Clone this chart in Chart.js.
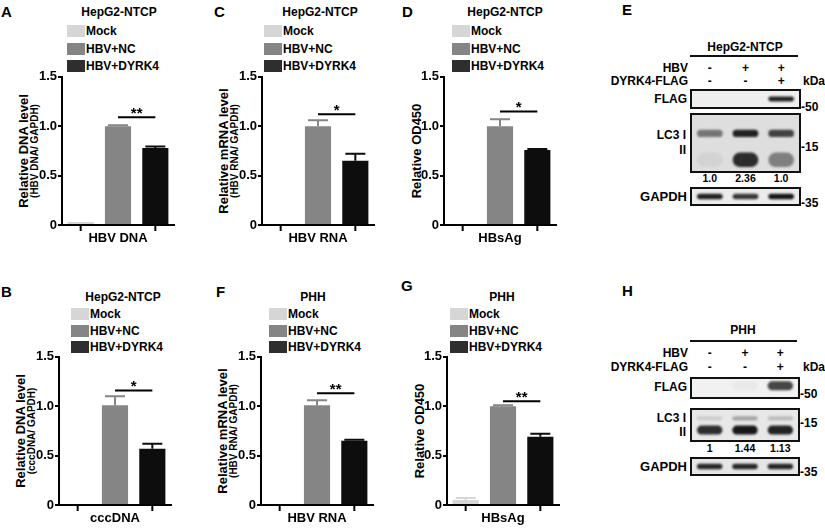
<!DOCTYPE html>
<html>
<head>
<meta charset="utf-8">
<script src="https://cdn.jsdelivr.net/npm/chart.js@4.4.1/dist/chart.umd.min.js"></script>
<style>
html, body { margin: 0; padding: 0; background: #fff; }
#fig { position: relative; width: 825px; height: 528px; overflow: hidden;
       font-family: "Liberation Sans", Arial, sans-serif; font-weight: bold; color: #000; }
#fig canvas { position: absolute; }
.t { position: absolute; white-space: nowrap; line-height: 1; }
.sw { position: absolute; width: 18px; height: 12px; }
.rule { position: absolute; height: 2px; background: #111; }
.blot { position: absolute; border: 2px solid #111; box-sizing: border-box; overflow: hidden; }
.blot canvas { left: 0; top: 0; filter: blur(1.2px); }
</style>
</head>
<body>
<div id="fig"></div>
<script>
// groups shared by all bar panels
const groups = ['Mock', 'HBV+NC', 'HBV+DYRK4'];
const groupColors = ['#d6d6d6', '#858585', '#0d0d0d'];
const legendColors = ['#d6d6d6', '#858585', '#2e2e2e'];

// bar values (mean) and error (SD, drawn upward)
const valuesA = [0.03, 1.00, 0.78];
const errorsA = [0, 0.01, 0.015];
const valuesC = [0, 1.00, 0.65];
const errorsC = [0, 0.06, 0.07];
const valuesD = [0.01, 1.00, 0.76];
const errorsD = [0, 0.07, 0.01];
const valuesB = [0, 1.01, 0.57];
const errorsB = [0, 0.09, 0.05];
const valuesF = [0, 1.01, 0.65];
const errorsF = [0, 0.05, 0.01];
const valuesG = [0.05, 1.00, 0.69];
const errorsG = [0.02, 0.01, 0.03];

// significance marks (NC vs DYRK4)
const starsA = '**', starsC = '*', starsD = '*', starsB = '*', starsF = '**', starsG = '**';
const sigLevelA = 1.09, sigLevelC = 1.12, sigLevelD = 1.15, sigLevelB = 1.16, sigLevelF = 1.13, sigLevelG = 1.05;

// western blots
const lanes = ['1', '2', '3'];
const hbvSigns = ['-', '+', '+'];
const dyrkSigns = ['-', '-', '+'];
const flagE = [0, 0, 0.9];
const lc3IE = [0.5, 0.9, 0.75];
const lc3IIE = [0.05, 0.85, 0.45];
const gapdhE = [0.9, 0.8, 0.95];
const quantE = ['1.0', '2.36', '1.0'];
const flagH = [0, 0.03, 0.75];
const lc3IH = [0.12, 0.3, 0.2];
const lc3IIH = [0.85, 0.95, 0.9];
const gapdhH = [0.88, 0.88, 0.88];
const quantH = ['1', '1.44', '1.13'];

Chart.defaults.font.family = '"Liberation Sans", Arial, sans-serif';
Chart.defaults.font.weight = 'bold';
Chart.defaults.color = '#000';

const fig = document.getElementById('fig');

function txt(s, x, y, size, align) {
    const d = document.createElement('div');
    d.className = 't';
    d.textContent = s;
    d.style.left = x + 'px';
    d.style.top = y + 'px';
    d.style.fontSize = size + 'px';
    const tx = align === 'center' ? '-50%' : align === 'right' ? '-100%' : '0';
    d.style.transform = `translate(${tx}, -50%)`;
    fig.appendChild(d);
    return d;
}

function vtxt(s, x, y, size) {
    const d = txt(s, x, y, size);
    d.style.transform = 'translate(-50%, -50%) rotate(-90deg)';
    return d;
}

// error bars, x tick marks and significance bracket
const extras = {
    id: 'extras',
    afterDatasetsDraw(chart, args, opts) {
        const { ctx, scales: { x, y } } = chart;
        const bars = chart.getDatasetMeta(0).data;
        ctx.save();
        ctx.lineWidth = 2;
        opts.errors.forEach((e, i) => {
            if (!e) return;
            const bx = bars[i].x;
            const base = y.getPixelForValue(opts.values[i]);
            const top = y.getPixelForValue(opts.values[i] + e);
            ctx.strokeStyle = groupColors[i];
            ctx.beginPath();
            ctx.moveTo(bx, base); ctx.lineTo(bx, top);
            ctx.moveTo(bx - 10, top); ctx.lineTo(bx + 10, top);
            ctx.stroke();
        });
        ctx.strokeStyle = '#000';
        [0, groups.length - 1].forEach(i => {
            const px = x.getPixelForValue(i);
            ctx.beginPath();
            ctx.moveTo(px, y.bottom); ctx.lineTo(px, y.bottom + 6);
            ctx.stroke();
        });
        const sy = y.getPixelForValue(opts.sigLevel);
        const x1 = bars[1].x, x2 = bars[2].x;
        ctx.beginPath();
        ctx.moveTo(x1, sy); ctx.lineTo(x2, sy);
        ctx.stroke();
        ctx.fillStyle = '#000';
        ctx.font = 'bold 15px "Liberation Sans", Arial, sans-serif';
        ctx.textAlign = 'center';
        ctx.textBaseline = 'alphabetic';
        ctx.fillText(opts.stars, (x1 + x2) / 2, sy + 1);
        ctx.restore();
    }
};

const panels = [
    { letter: 'A', title: 'HepG2-NTCP', yTitle: 'Relative  DNA level', ySub: '(HBV DNA/ GAPDH)', xLabel: 'HBV DNA',
      values: valuesA, errors: errorsA, stars: starsA, sigLevel: sigLevelA,
      x0: 62, top: 76, lx: 1, ly: 11, tx: 119, ty: 12, legX: 67, legY: [31, 49, 66] },
    { letter: 'C', title: 'HepG2-NTCP', yTitle: 'Relative mRNA level', ySub: '(HBV RNA/ GAPDH)', xLabel: 'HBV RNA',
      values: valuesC, errors: errorsC, stars: starsC, sigLevel: sigLevelC,
      x0: 262, top: 76, lx: 214, ly: 11, tx: 320, ty: 12, legX: 264, legY: [31, 49, 66] },
    { letter: 'D', title: 'HepG2-NTCP', yTitle: 'Relative OD450', ySub: null, xLabel: 'HBsAg',
      values: valuesD, errors: errorsD, stars: starsD, sigLevel: sigLevelD,
      x0: 444, top: 76, lx: 402, ly: 11, tx: 505, ty: 12, legX: 452, legY: [31, 49, 66] },
    { letter: 'B', title: 'HepG2-NTCP', yTitle: 'Relative DNA level', ySub: '(cccDNA/ GAPDH)', xLabel: 'cccDNA',
      values: valuesB, errors: errorsB, stars: starsB, sigLevel: sigLevelB,
      x0: 59, top: 356, lx: 1, ly: 291, tx: 123, ty: 297, legX: 71, legY: [314, 331, 347] },
    { letter: 'F', title: 'PHH', yTitle: 'Relative mRNA level', ySub: '(HBV RNA/ GAPDH)', xLabel: 'HBV RNA',
      values: valuesF, errors: errorsF, stars: starsF, sigLevel: sigLevelF,
      x0: 261, top: 356, lx: 216, ly: 291, tx: 313, ty: 297, legX: 269, legY: [314, 331, 347] },
    { letter: 'G', title: 'PHH', yTitle: 'Relative OD450', ySub: null, xLabel: 'HBsAg',
      values: valuesG, errors: errorsG, stars: starsG, sigLevel: sigLevelG,
      x0: 447, top: 356, lx: 401, ly: 285, tx: 502, ty: 297, legX: 450, legY: [314, 331, 347] }
];

const AXW = 48, PLOTW = 112, PLOTH = 149, PADT = 8, PADR = 8, XH = 26;

panels.forEach(p => {
    txt(p.letter, p.lx, p.ly, 15);
    txt(p.title, p.tx, p.ty, 12, 'center');
    groups.forEach((g, i) => {
        const sw = document.createElement('div');
        sw.className = 'sw';
        sw.style.left = p.legX + 'px';
        sw.style.top = (p.legY[i] - 6) + 'px';
        sw.style.background = legendColors[i];
        fig.appendChild(sw);
        txt(g, p.legX + 19, p.legY[i], 12);
    });
    const midY = p.top + PLOTH / 2;
    if (p.ySub) {
        vtxt(p.yTitle, p.x0 - 39, midY, 13);
        vtxt(p.ySub, p.x0 - 27, midY, 10);
    } else {
        vtxt(p.yTitle, p.x0 - 28, midY, 13);
    }

    const cv = document.createElement('canvas');
    cv.width = AXW + PLOTW + PADR;
    cv.height = PADT + PLOTH + XH;
    cv.style.left = (p.x0 - AXW) + 'px';
    cv.style.top = (p.top - PADT) + 'px';
    fig.appendChild(cv);

    new Chart(cv, {
        type: 'bar',
        data: {
            labels: groups,
            datasets: [{
                data: p.values,
                backgroundColor: groupColors,
                barPercentage: 0.7,
                categoryPercentage: 1
            }]
        },
        options: {
            responsive: false,
            animation: false,
            layout: { padding: { top: PADT, right: PADR, left: 0, bottom: 0 } },
            plugins: {
                legend: { display: false },
                tooltip: { enabled: false },
                extras: { values: p.values, errors: p.errors, stars: p.stars, sigLevel: p.sigLevel }
            },
            scales: {
                x: {
                    grid: { display: false },
                    border: { color: '#000', width: 2 },
                    ticks: { display: false },
                    title: { display: true, text: p.xLabel, font: { size: 13, weight: 'bold' }, color: '#000',
                             padding: { top: 0, bottom: 5 } },
                    afterFit: s => { s.height = XH; }
                },
                y: {
                    min: 0, max: 1.5,
                    ticks: { stepSize: 0.5, padding: 1, font: { size: 13, weight: 'bold' }, color: '#000',
                             callback: v => v === 0 ? '0' : v.toFixed(1) },
                    grid: { drawOnChartArea: false, color: '#000', lineWidth: 2, tickLength: 4 },
                    border: { color: '#000', width: 2 },
                    afterFit: s => { s.width = AXW; }
                }
            }
        },
        plugins: [extras]
    });
});

// western blot panels
const blots = [
    { letter: 'E', lx: 622, ly: 9, header: 'HepG2-NTCP', hx: 745, hy: 47, ruleY: 56,
      hbvY: 68, dyrkY: 81, left: 690, width: 111, quant: quantE, quantY: 178,
      strips: [
        { name: 'FLAG', top: 89, height: 20, bg: '#efefef', labelY: 99, marker: '-50', markerY: 107,
          rows: [{ c: 0.5, h: 0.3 }], intens: [flagE] },
        { name: 'LC3', top: 113, height: 60, bg: '#dedede', labels: [['LC3 I', 135], ['II', 150]], marker: '-15', markerY: 147,
          rows: [{ c: 0.67, h: 0.13 }, { c: 0.2, h: 0.26 }], intens: [lc3IE, lc3IIE] },
        { name: 'GAPDH', top: 187, height: 19, bg: '#ececec', labelY: 196, marker: '-35', markerY: 203, size: 13,
          rows: [{ c: 0.5, h: 0.36 }], intens: [gapdhE] }
      ] },
    { letter: 'H', lx: 622, ly: 290, header: 'PHH', hx: 743, hy: 330, ruleY: 341,
      hbvY: 353, dyrkY: 367, left: 690, width: 110, quant: quantH, quantY: 448,
      strips: [
        { name: 'FLAG', top: 377, height: 22, bg: '#f1f1f1', labelY: 387, marker: '-50', markerY: 394,
          rows: [{ c: 0.62, h: 0.5 }], intens: [flagH] },
        { name: 'LC3', top: 408, height: 34, bg: '#e8e8e8', labels: [['LC3 I', 418], ['II', 432]], marker: '-15', markerY: 423,
          rows: [{ c: 0.72, h: 0.14 }, { c: 0.33, h: 0.3 }], intens: [lc3IH, lc3IIH] },
        { name: 'GAPDH', top: 457, height: 19, bg: '#e6e6e6', labelY: 466, marker: '-35', markerY: 472, size: 13,
          rows: [{ c: 0.5, h: 0.36 }], intens: [gapdhH] }
      ] }
];

blots.forEach(b => {
    txt(b.letter, b.lx, b.ly, 15);
    txt(b.header, b.hx, b.hy, 12, 'center');
    const rule = document.createElement('div');
    rule.className = 'rule';
    rule.style.left = b.left + 'px';
    rule.style.top = (b.ruleY - 1) + 'px';
    rule.style.width = (b.width - 3) + 'px';
    fig.appendChild(rule);
    txt('HBV', 688, b.hbvY, 12, 'right');
    txt('DYRK4-FLAG', 688, b.dyrkY, 12, 'right');
    txt('kDa', 803, b.dyrkY, 12);

    let laneX = null;
    b.strips.forEach(s => {
        const wrap = document.createElement('div');
        wrap.className = 'blot';
        wrap.style.left = b.left + 'px';
        wrap.style.top = s.top + 'px';
        wrap.style.width = b.width + 'px';
        wrap.style.height = s.height + 'px';
        wrap.style.background = s.bg;
        fig.appendChild(wrap);
        const cv = document.createElement('canvas');
        cv.width = b.width - 4;
        cv.height = s.height - 4;
        wrap.appendChild(cv);
        const ch = new Chart(cv, {
            type: 'bar',
            data: {
                labels: lanes,
                datasets: s.rows.map((r, k) => ({
                    data: s.intens[k].map(() => [r.c - r.h / 2, r.c + r.h / 2]),
                    backgroundColor: s.intens[k].map(a => `rgba(12,12,12,${a})`),
                    barPercentage: 0.72,
                    categoryPercentage: 1,
                    borderRadius: 8,
                    borderSkipped: false,
                    grouped: false
                }))
            },
            options: {
                responsive: false,
                animation: false,
                layout: { padding: 0 },
                plugins: { legend: { display: false }, tooltip: { enabled: false } },
                scales: { x: { display: false }, y: { display: false, min: 0, max: 1 } }
            }
        });
        if (!laneX) laneX = lanes.map((l, i) => b.left + 2 + ch.scales.x.getPixelForValue(i));
        if (s.labels) {
            s.labels.forEach(([t, y]) => txt(t, 686, y, 12, 'right'));
        } else {
            txt(s.name, 687, s.labelY, s.size || 12, 'right');
        }
        txt(s.marker, b.left + b.width, s.markerY, 12);
    });
    laneX.forEach((x, i) => {
        txt(hbvSigns[i], x, b.hbvY, 12, 'center');
        txt(dyrkSigns[i], x, b.dyrkY, 12, 'center');
        txt(b.quant[i], x, b.quantY, 10.5, 'center');
    });
});
</script>
</body>
</html>
